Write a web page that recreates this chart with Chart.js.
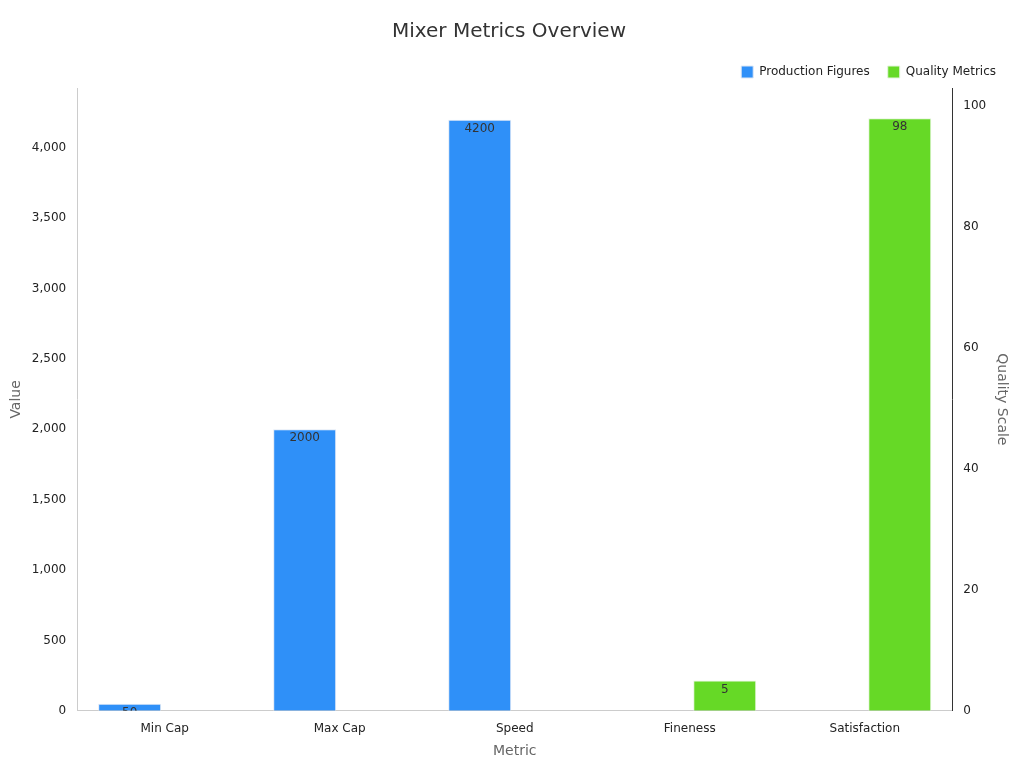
<!DOCTYPE html><html><head><script src="https://cdn.jsdelivr.net/npm/chart.js"></script>
<style>body{margin:0;background:#fff}#w{width:1024px;height:768px}</style></head><body><div id="w"><canvas id="c"></canvas></div>
<script>
const categories=["Min Cap","Max Cap","Speed","Fineness","Satisfaction"];
const production=[50,2000,4200,null,null];
const quality=[null,null,null,5,98];
const labelPlugin={id:'lbl',afterDatasetsDraw(ch){const ctx=ch.ctx;ch.data.datasets.forEach((ds,i)=>{ch.getDatasetMeta(i).data.forEach((b,j)=>{const v=ds.data[j];if(v==null)return;const top=b.y,bot=b.base;ctx.save();ctx.beginPath();ctx.rect(b.x-b.width/2,top,b.width,bot-top);ctx.clip();ctx.fillStyle='#333';ctx.font='12px "DejaVu Sans"';ctx.textAlign='center';ctx.textBaseline='top';ctx.fillText(String(v),b.x,top+3);ctx.restore();});});}};
Chart.defaults.font.family='"DejaVu Sans"';Chart.defaults.color='#222';
new Chart(document.getElementById('c'),{type:'bar',data:{labels:categories,datasets:[
{label:'Production Figures',data:production,backgroundColor:'#2f90f8',borderColor:'#dfe8f5',borderWidth:1,yAxisID:'y'},
{label:'Quality Metrics',data:quality,backgroundColor:'#66d926',borderColor:'#e5f5dc',borderWidth:1,yAxisID:'y1'}]},
plugins:[labelPlugin],
options:{responsive:true,maintainAspectRatio:false,animation:false,layout:{padding:{left:4,right:10,top:10,bottom:4}},
plugins:{title:{display:true,text:'Mixer Metrics Overview',font:{size:20,weight:'normal'},color:'#333',padding:{top:10,bottom:4}},
legend:{align:'end',labels:{boxWidth:12,boxHeight:12,font:{size:12},padding:18}},tooltip:{enabled:false}},
scales:{x:{grid:{display:false},border:{color:'#ccc'},ticks:{font:{size:12}},title:{display:true,text:'Metric',color:'#666',font:{size:14}}},
y:{position:'left',min:0,max:4425,afterBuildTicks(a){a.ticks=[0,500,1000,1500,2000,2500,3000,3500,4000].map(v=>({value:v}));},grid:{display:false,drawTicks:true},border:{color:'#ccc'},ticks:{font:{size:12}},title:{display:true,text:'Value',color:'#666',font:{size:14}}},
y1:{position:'right',min:0,max:103,afterBuildTicks(a){a.ticks=[0,20,40,60,80,100].map(v=>({value:v}));},grid:{display:false},border:{color:'#333'},ticks:{font:{size:12}},title:{display:true,text:'Quality Scale',color:'#666',font:{size:14}}}}}});
</script></body></html>
